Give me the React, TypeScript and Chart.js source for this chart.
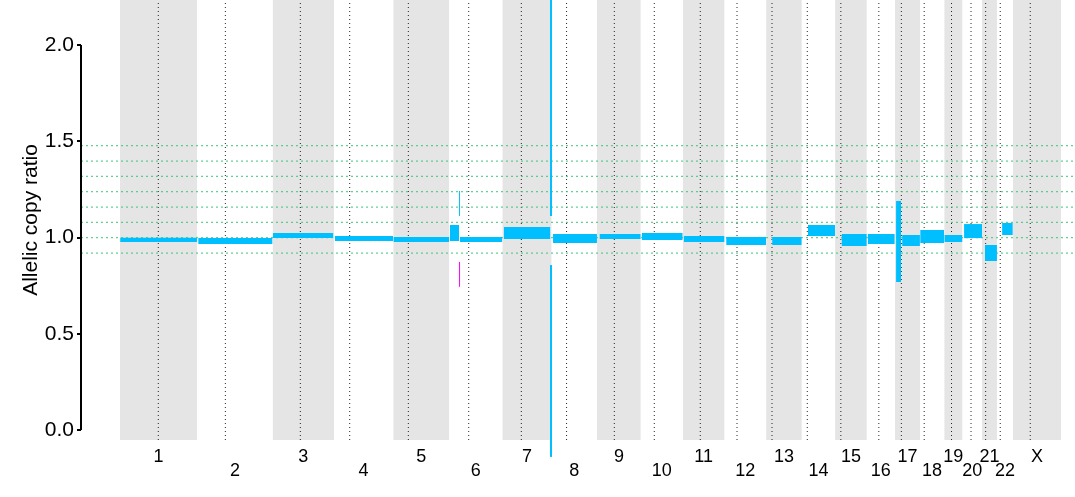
import React, { useEffect, useRef } from 'react';
import { Chart, registerables } from 'chart.js';

Chart.register(...registerables);

// Chromosomes (genome order), lengths and centromere positions in Mb
const CHROMS = ['1', '2', '3', '4', '5', '6', '7', '8', '9', '10', '11', '12', '13', '14', '15', '16', '17', '18', '19', '20', '21', '22', 'X'];
const CHROM_LEN_MB = [249.3, 243.2, 198.0, 191.2, 180.9, 171.1, 159.1, 146.4, 141.2, 135.5, 135.0, 133.9, 115.2, 107.3, 102.5, 90.4, 81.2, 78.1, 59.1, 63.0, 48.1, 51.3, 155.3];
const CENTROMERE_MB = [123.6, 90.7, 89.4, 50.7, 48.7, 62.6, 61.3, 48.1, 55.8, 43.6, 56.5, 40.0, 19.0, 17.7, 18.7, 38.7, 21.0, 13.5, 23.6, 27.4, 11.6, 10.6, 56.1];

// Y axis
const Y_TICKS = [0, 0.5, 1.0, 1.5, 2.0];
const Y_TITLE = 'Allelic copy ratio';
// Dotted green reference levels
const REF_LEVELS = [0.919, 0.999, 1.079, 1.158, 1.238, 1.318, 1.397, 1.477];

// Segments: chromosome, start/end (Mb within chromosome), low/high ratio
const SEG_CHROM = ['1', '2', '3', '4', '5', '6', '6', '7', '8', '9', '10', '11', '12', '13', '14', '15', '16', '17', '17', '18', '19', '20', '21', '22'];
const SEG_START = [0.5, 3, 0.5, 3, 0.5, 2, 34.5, 4.5, 4.5, 8, 3, 3, 5, 19.5, 20, 21, 3, 4, 23.5, 0.5, 0.5, 5, 9.5, 16.5];
const SEG_END = [249.0, 243.0, 196.0, 191.0, 180.7, 31.5, 171.0, 155.0, 146.2, 141.0, 135.3, 134.8, 133.7, 115.0, 107.2, 102.4, 90.2, 20, 81.0, 78.0, 59.0, 62.9, 48.0, 51.2];
const SEG_LOW = [0.977, 0.966, 0.997, 0.982, 0.977, 0.982, 0.977, 0.992, 0.971, 0.992, 0.987, 0.977, 0.961, 0.961, 1.008, 0.956, 0.966, 0.769, 0.956, 0.971, 0.977, 0.997, 0.878, 1.013];
const SEG_HIGH = [0.999, 0.997, 1.023, 1.008, 1.003, 1.065, 1.003, 1.055, 1.018, 1.018, 1.023, 1.008, 1.003, 1.003, 1.065, 1.018, 1.018, 1.190, 1.013, 1.039, 1.013, 1.070, 0.961, 1.075];

// Narrow focal segments drawn as thin vertical strokes
const FOCAL_CHROM = ['6', '6', '7', '7'];
const FOCAL_POS = [33, 33, 157, 157];
const FOCAL_LOW = [1.112, 0.744, 1.112, -0.14];
const FOCAL_HIGH = [1.242, 0.873, 2.5, 0.857];
const FOCAL_COLOR = ['#00BFFF', '#FF00FF', '#00BFFF', '#00BFFF'];
const FOCAL_WIDTH = [1, 1, 2, 2];

// Axis ranges (Mb, genome-wide; ratio)
const X_MIN = -125.8;
const X_MAX = 3081.5;
const Y_MIN = -0.052;
const Y_MAX = 2.234;

const BAND_COLOR = '#E5E5E5';
const SEG_COLOR = '#00BFFF';
const REF_COLOR = '#3CC47C';
const FONT = "'Liberation Sans', Arial, Helvetica, sans-serif";

export default function App() {
  const ref = useRef<HTMLCanvasElement | null>(null);

  useEffect(() => {
    if (!ref.current) return;
    const offsets: number[] = [];
    let acc = 0;
    for (const len of CHROM_LEN_MB) {
      offsets.push(acc);
      acc += len;
    }
    const off = (c: string) => offsets[CHROMS.indexOf(c)];
    const mids = CHROMS.map((_, i) => offsets[i] + CHROM_LEN_MB[i] / 2);

    const datasets: any[] = [];
    const base = { pointRadius: 0, pointHitRadius: 0, tension: 0 };

    // grey bands for alternating chromosomes
    CHROMS.forEach((_, i) => {
      if (i % 2 !== 0) return;
      datasets.push({
        ...base,
        data: [{ x: offsets[i], y: Y_MAX }, { x: offsets[i] + CHROM_LEN_MB[i], y: Y_MAX }],
        fill: 'start',
        backgroundColor: BAND_COLOR,
        borderColor: 'rgba(0,0,0,0)',
        borderWidth: 0,
        order: 10,
      });
    });

    // centromere dotted lines
    CHROMS.forEach((_, i) => {
      const x = offsets[i] + CENTROMERE_MB[i];
      datasets.push({
        ...base,
        data: [{ x, y: Y_MIN }, { x, y: Y_MAX }],
        fill: false,
        borderColor: 'rgba(0,0,0,0.85)',
        borderWidth: 1,
        borderDash: [1, 3],
        order: 5,
      });
    });

    // green reference levels
    REF_LEVELS.forEach((v) => {
      datasets.push({
        ...base,
        data: [{ x: X_MIN, y: v }, { x: X_MAX, y: v }],
        fill: false,
        borderColor: REF_COLOR,
        borderWidth: 1,
        borderDash: [2, 3],
        order: 4,
      });
    });

    // segments
    SEG_CHROM.forEach((c, i) => {
      const o = off(c);
      datasets.push({
        ...base,
        data: [{ x: o + SEG_START[i], y: SEG_LOW[i] }, { x: o + SEG_END[i], y: SEG_LOW[i] }],
        fill: { value: SEG_HIGH[i] },
        backgroundColor: SEG_COLOR,
        borderColor: 'rgba(0,0,0,0)',
        borderWidth: 0,
        order: 1,
      });
    });

    // focal strokes
    FOCAL_CHROM.forEach((c, i) => {
      const x = off(c) + FOCAL_POS[i];
      datasets.push({
        ...base,
        data: [{ x, y: FOCAL_LOW[i] }, { x, y: FOCAL_HIGH[i] }],
        fill: false,
        borderColor: FOCAL_COLOR[i],
        borderWidth: FOCAL_WIDTH[i],
        clip: false,
        order: 1,
      });
    });

    // y axis line from first to last tick
    datasets.push({
      ...base,
      data: [{ x: X_MIN, y: Y_TICKS[0] }, { x: X_MIN, y: Y_TICKS[Y_TICKS.length - 1] }],
      fill: false,
      borderColor: '#000',
      borderWidth: 2,
      clip: false,
      order: 0,
    });

    const chart = new Chart(ref.current, {
      type: 'line',
      data: { datasets },
      options: {
        animation: false,
        responsive: false,
        devicePixelRatio: 1,
        events: [],
        layout: { padding: 0 },
        plugins: { legend: { display: false }, tooltip: { enabled: false } },
        scales: {
          x: {
            type: 'linear',
            min: X_MIN,
            max: X_MAX,
            grid: { display: false, drawTicks: false },
            border: { display: false },
            afterBuildTicks: (s: any) => {
              s.ticks = mids.map((v) => ({ value: v }));
            },
            afterFit: (s: any) => {
              s.height = 57;
              s.paddingLeft = 0;
              s.paddingRight = 0;
            },
            ticks: {
              autoSkip: false,
              maxRotation: 0,
              minRotation: 0,
              includeBounds: false,
              padding: 10.5,
              color: '#000',
              font: { family: FONT, size: 18, lineHeight: 0.75 },
              callback: (_v: any, i: number) => (i % 2 === 0 ? CHROMS[i] : ['', CHROMS[i]]),
            },
          },
          y: {
            type: 'linear',
            min: Y_MIN,
            max: Y_MAX,
            grid: { display: true, drawOnChartArea: false, drawTicks: true, tickLength: 4, color: '#000', lineWidth: 2 },
            border: { display: false },
            afterBuildTicks: (s: any) => {
              s.ticks = Y_TICKS.map((v) => ({ value: v }));
            },
            afterFit: (s: any) => {
              s.width = 81;
              s.paddingTop = 0;
              s.paddingBottom = 0;
            },
            ticks: {
              includeBounds: false,
              padding: 3,
              color: '#000',
              font: { family: FONT, size: 21 },
              callback: (v: any) => Number(v).toFixed(1),
            },
            title: {
              display: true,
              text: Y_TITLE,
              color: '#000',
              font: { family: FONT, size: 21 },
              padding: { top: 19, bottom: 0 },
            },
          },
        },
      },
    });
    return () => chart.destroy();
  }, []);

  return (
    <canvas
      ref={ref}
      width={1075}
      height={497}
      style={{ position: 'absolute', left: 0, top: 0, width: 1075, height: 497 }}
    />
  );
}
